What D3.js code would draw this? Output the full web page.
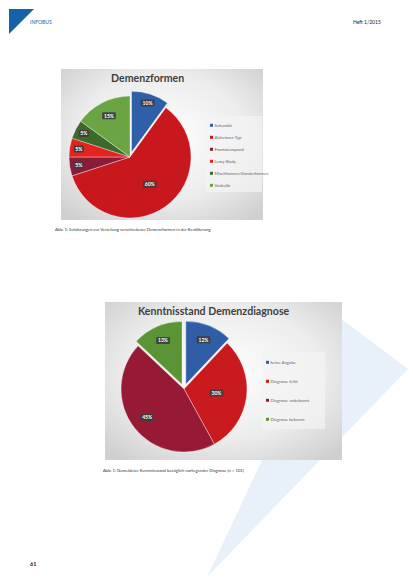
<!DOCTYPE html>
<html><head><meta charset="utf-8">
<script src="https://cdn.jsdelivr.net/npm/d3@7"></script>
<style>html,body{margin:0;padding:0;background:#fff}svg{display:block}</style>
</head><body>
<script>
// ---- data ----
const forms = ["Sekundär","Alzheimer-Typ","Frontotemporal","Lewy-Body","Mischformen/Sonderformen","Vaskulär"];
const formValues = [10,60,5,5,5,15];
const formColors = ["#2f5fa8","#c8181e","#8a1b3b","#e2231f","#3d6a2a","#6ba443"];
const formExplode = [1,0,0,0,0,0];

const know = ["keine Angabe","Diagnose fehlt","Diagnose unbekannt","Diagnose bekannt"];
const knowValues = [12,30,45,13];
const knowColors = ["#2f5ea6","#c91b1e","#971a35","#5a9434"];
const knowExplode = [1,0,0,1];

const title1 = "Demenzformen";
const title2 = "Kenntnisstand Demenzdiagnose";
const caption1 = "Abb. 1: Schätzungen zur Verteilung verschiedener Demenzformen in der Bevölkerung";
const caption2 = "Abb. 1: Gemeldeter Kenntnisstand bezüglich vorliegender Diagnose (n = 101)";

const W = 413, H = 585;
const svg = d3.select("body").append("svg").attr("width", W).attr("height", H);
const defs = svg.append("defs");

// watermark triangle
svg.append("path").attr("d", d3.line()([[332,312],[408,369],[207,577]]) + "Z")
  .attr("fill", "#e8f0fa");

// header
svg.append("path").attr("d", d3.line()([[9,9],[34,9],[9,34]]) + "Z").attr("fill", "#1463a6");
svg.append("text").attr("x", 30).attr("y", 24).text("INFOBUS")
  .attr("font-family", "Lato, sans-serif").attr("font-size", 5).attr("fill", "#1463a6");
svg.append("text").attr("x", 353).attr("y", 24).text("Heft 1/2015")
  .attr("font-family", "Lato, sans-serif").attr("font-size", 5).attr("fill", "#222");
svg.append("text").attr("x", 30).attr("y", 566).text("61")
  .attr("font-family", "Lato, sans-serif").attr("font-size", 5.5).attr("font-weight", "bold").attr("fill", "#111");

const grad = defs.append("radialGradient").attr("id", "bg").attr("cx", "50%").attr("cy", "45%").attr("r", "70%");
grad.append("stop").attr("offset", "0%").attr("stop-color", "#ffffff");
grad.append("stop").attr("offset", "60%").attr("stop-color", "#ececec");
grad.append("stop").attr("offset", "100%").attr("stop-color", "#cfcfcf");

function labelFactor(v) {
  if (v >= 50) return 0.55;
  if (v >= 40) return 0.74;
  if (v >= 20) return 0.52;
  if (v > 10) return 0.76;
  return 0.85;
}

function drawChart(cfg) {
  const g = svg.append("g");
  g.append("rect").attr("x", cfg.box[0]).attr("y", cfg.box[1])
    .attr("width", cfg.box[2]).attr("height", cfg.box[3]).attr("fill", "url(#bg)");
  g.append("text").attr("x", cfg.titlePos[0]).attr("y", cfg.titlePos[1]).text(cfg.title)
    .attr("font-family", "Lato, sans-serif").attr("font-size", cfg.titleSize).attr("font-weight", "bold")
    .attr("fill", "#404040");

  const pie = d3.pie().sort(null).value(d => d)(cfg.values);
  const arc = d3.arc().innerRadius(0).outerRadius(cfg.r);
  const pg = g.append("g").attr("transform", `translate(${cfg.center[0]},${cfg.center[1]})`);
  pie.forEach((p, i) => {
    const mid = (p.startAngle + p.endAngle) / 2;
    const off = cfg.explode[i] ? cfg.explodeDist : 0;
    const dx = Math.sin(mid) * off, dy = -Math.cos(mid) * off;
    const sg = pg.append("g").attr("transform", `translate(${dx},${dy})`);
    sg.append("path").attr("d", arc(p)).attr("fill", cfg.colors[i])
      .attr("stroke", "#ffffff").attr("stroke-width", 0.6).attr("stroke-opacity", 0.6);
    const v = cfg.values[i];
    const lr = cfg.r * labelFactor(v);
    const lx = Math.sin(mid) * lr, ly = -Math.cos(mid) * lr;
    const txt = v + "%";
    const bw = txt.length * 3.6 + 3, bh = 7;
    sg.append("rect").attr("x", lx - bw / 2).attr("y", ly - bh / 2).attr("width", bw).attr("height", bh)
      .attr("rx", 1.2).attr("fill", "#3d3d3d").attr("fill-opacity", 0.9);
    sg.append("text").attr("x", lx).attr("y", ly + 1.8).attr("text-anchor", "middle").text(txt)
      .attr("font-family", "Lato, sans-serif").attr("font-size", 5).attr("font-weight", "bold").attr("fill", "#fff");
  });

  const lb = cfg.legendBox;
  g.append("rect").attr("x", lb[0]).attr("y", lb[1]).attr("width", lb[2]).attr("height", lb[3])
    .attr("fill", "#f4f4f4").attr("fill-opacity", 0.7);
  const ly = d3.scalePoint().domain(cfg.labels).range(cfg.legendY);
  cfg.labels.forEach((lab, i) => {
    g.append("rect").attr("x", cfg.legendX).attr("y", ly(lab) - 2.2).attr("width", 3).attr("height", 3)
      .attr("fill", cfg.colors[i]);
    g.append("text").attr("x", cfg.legendX + 4.5).attr("y", ly(lab) + 0.9).text(lab)
      .attr("font-family", "Lato, sans-serif").attr("font-size", 4.3).attr("fill", "#666");
  });

  svg.append("text").attr("x", cfg.captionPos[0]).attr("y", cfg.captionPos[1]).text(cfg.caption)
    .attr("font-family", "Lato, sans-serif").attr("font-size", 4.2).attr("fill", "#333");
}

drawChart({
  box: [61, 69, 202, 151], title: title1, titlePos: [111, 82], titleSize: 10.6,
  values: formValues, colors: formColors, labels: forms, explode: formExplode, explodeDist: 5,
  center: [130, 157], r: 61,
  legendBox: [206, 116, 56, 76], legendX: 210, legendY: [126, 186],
  caption: caption1, captionPos: [55, 231]
});

drawChart({
  box: [105, 302, 237, 158], title: title2, titlePos: [138, 315], titleSize: 10.6,
  values: knowValues, colors: knowColors, labels: know, explode: knowExplode, explodeDist: 5,
  center: [184, 389], r: 63,
  legendBox: [262, 352, 63, 77], legendX: 266, legendY: [363, 420],
  caption: caption2, captionPos: [103, 472]
});
</script>
</body></html>
